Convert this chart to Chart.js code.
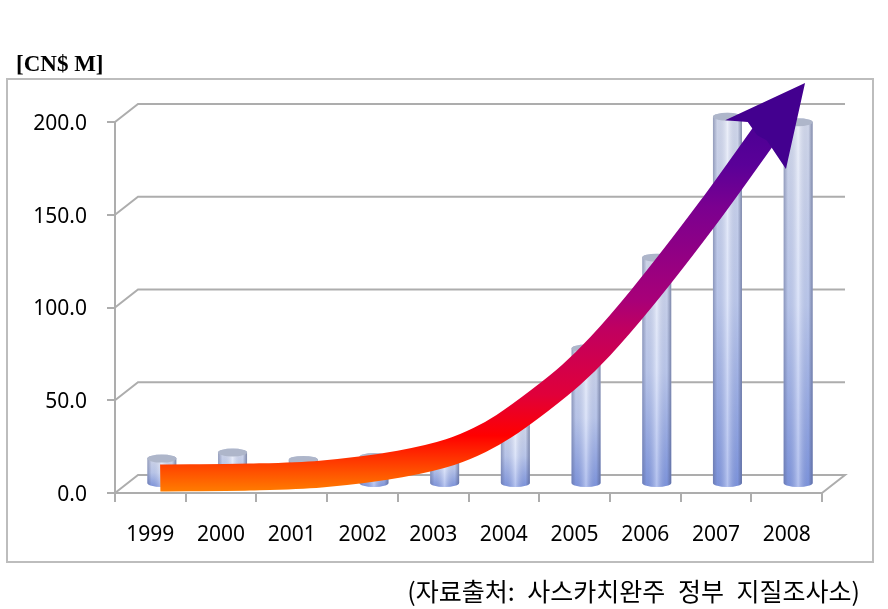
<!DOCTYPE html>
<html>
<head>
<meta charset="utf-8">
<title>CN$ M</title>
<script src="https://cdn.jsdelivr.net/npm/chart.js@4"></script>
<style>
    html, body { margin: 0; padding: 0; background: #fff; overflow: hidden; }
    #wrap { position: relative; width: 888px; height: 609px; }
    canvas { display: block; }
    #unit { position: absolute; left: 16px; top: 51px; font: bold 23px "Liberation Serif", serif; color: #000; }
    #source { position: absolute; right: 28px; top: 575px; font: 25px "Noto Sans CJK KR", sans-serif; word-spacing: 7px; line-height: 30px; color: #000; white-space: nowrap; }
</style>
</head>
<body>
<div id="wrap">
    <canvas id="chart" width="888" height="609"></canvas>
    <div id="unit">[CN$ M]</div>
    <div id="source">(자료출처: 사스카치완주 정부 지질조사소)</div>
</div>
<script>
const categories = ['1999', '2000', '2001', '2002', '2003', '2004', '2005', '2006', '2007', '2008'];
const values = [13.7, 17, 13, 14.5, 18, 32, 73, 122, 198, 195];

// arrow shaft (year position, value)
const arrowYears = [1999.14, 2000.41, 2001.41, 2002.53, 2003.24, 2003.66, 2004.0, 2004.51, 2004.95, 2005.36, 2005.95, 2006.92, 2007.72];
const arrowValues = [8.1, 8.6, 10.2, 15.6, 22, 28.6, 36, 50, 63.6, 79, 105, 152.6, 195];

// arrow head outline
const headYears = [2007.13, 2008.26, 2007.99, 2007.72, 2007.58, 2007.45];
const headValues = [201, 221, 174.7, 190, 193, 200];

const gridColor = '#adadad';
const depthX = 23;
const depthY = 18;

function arrowGradient(context) {
    const chart = context.chart;
    if (!chart.chartArea) return '#ff0000';
    const y = chart.scales.y;
    const g = chart.ctx.createLinearGradient(0, y.getPixelForValue(0), 0, y.getPixelForValue(221));
    g.addColorStop(0, '#ff8000');
    g.addColorStop(0.07, '#ff4000');
    g.addColorStop(0.14, '#ff0000');
    g.addColorStop(0.24, '#e0003a');
    g.addColorStop(0.4, '#c00060');
    g.addColorStop(0.47, '#a80078');
    g.addColorStop(0.7, '#7a0090');
    g.addColorStop(0.8, '#5a0098');
    g.addColorStop(1, '#3d0090');
    return g;
}

const wallsPlugin = {
    id: 'walls',
    beforeDraw(chart) {
        const ctx = chart.ctx;
        ctx.save();
        ctx.strokeStyle = '#bdbdbd';
        ctx.lineWidth = 2;
        ctx.strokeRect(7, 79, 866, 483);
        ctx.restore();
        // canvas middle baseline sits high for these digits
        if (!chart.$labelsMoved) {
            chart.scales.y.getLabelItems().forEach((item) => { item.options.translation[1] += 2; });
            chart.scales.x.getLabelItems().forEach((item) => { item.options.translation[1] += 1; });
            chart.$labelsMoved = true;
        }
    },
    beforeDatasetsDraw(chart) {
        const ctx = chart.ctx;
        const yScale = chart.scales.y;
        const area = chart.chartArea;
        ctx.save();
        ctx.strokeStyle = gridColor;
        ctx.lineWidth = 2;
        yScale.ticks.forEach((tick) => {
            const py = yScale.getPixelForValue(tick.value);
            ctx.beginPath();
            ctx.moveTo(area.left, py);
            ctx.lineTo(area.left + depthX, py - depthY);
            ctx.lineTo(area.right + depthX, py - depthY);
            if (tick.value === 0) ctx.lineTo(area.right, py);
            ctx.stroke();
        });
        ctx.restore();
        chart.getDatasetMeta(0).data.forEach(drawCylinder.bind(null, ctx));
    },
    afterDatasetsDraw(chart) {
        // the filler clips to the chart area, so the head is filled here
        const ctx = chart.ctx;
        const xScale = chart.scales.arrowX;
        const yScale = chart.scales.y;
        ctx.save();
        ctx.beginPath();
        headYears.forEach((year, i) => {
            ctx.lineTo(xScale.getPixelForValue(year), yScale.getPixelForValue(headValues[i]));
        });
        ctx.closePath();
        ctx.fillStyle = '#43008f';
        ctx.fill();
        ctx.restore();
    }
};

function drawCylinder(ctx, bar) {
    const rx = bar.width / 2;
    const ry = 4;
    const cx = bar.x + depthX / 2;
    const top = bar.y - depthY / 2;
    const base = bar.base - depthY / 2;

    ctx.save();
    ctx.beginPath();
    ctx.moveTo(cx - rx, top);
    ctx.lineTo(cx - rx, base);
    ctx.ellipse(cx, base, rx, ry, 0, Math.PI, 0, true);
    ctx.lineTo(cx + rx, top);
    ctx.ellipse(cx, top, rx, ry, 0, 0, Math.PI, true);
    ctx.closePath();

    const body = ctx.createLinearGradient(0, top, 0, base + ry);
    body.addColorStop(0, '#dde3f4');
    body.addColorStop(0.5, '#c4d1f5');
    body.addColorStop(1, '#8098e4');
    ctx.fillStyle = body;
    ctx.fill();

    const side = ctx.createLinearGradient(cx - rx, 0, cx + rx, 0);
    side.addColorStop(0, 'rgba(90,100,140,0.55)');
    side.addColorStop(0.15, 'rgba(90,100,140,0.12)');
    side.addColorStop(0.5, 'rgba(255,255,255,0.42)');
    side.addColorStop(0.85, 'rgba(80,90,130,0.1)');
    side.addColorStop(1, 'rgba(80,90,130,0.65)');
    ctx.fillStyle = side;
    ctx.fill();

    ctx.beginPath();
    ctx.ellipse(cx, top, rx, ry, 0, 0, Math.PI * 2);
    ctx.fillStyle = '#aeb6ca';
    ctx.fill();
    ctx.restore();
}

const shaftData = arrowYears.map((year, i) => ({ x: year, y: arrowValues[i] }));

new Chart(document.getElementById('chart'), {
    type: 'bar',
    data: {
        labels: categories,
        datasets: [
            {
                type: 'bar',
                data: values,
                backgroundColor: 'transparent',
                borderWidth: 0,
                grouped: false,
                barPercentage: 0.41,
                categoryPercentage: 1,
                order: 2
            },
            {
                type: 'line',
                data: shaftData,
                xAxisID: 'arrowX',
                borderColor: arrowGradient,
                borderWidth: 27,
                borderCapStyle: 'butt',
                cubicInterpolationMode: 'monotone',
                pointRadius: 0,
                fill: false,
                clip: false,
                order: 1
            }
        ]
    },
    options: {
        responsive: false,
        animation: false,
        layout: { padding: { top: 122, right: 66, bottom: 0, left: 0 } },
        plugins: { legend: { display: false }, tooltip: { enabled: false }, title: { display: false } },
        events: [],
        scales: {
            x: {
                afterFit(scale) { scale.height = 116; },
                grid: { drawOnChartArea: false, drawTicks: true, tickLength: 9, color: gridColor, lineWidth: 2 },
                border: { color: gridColor, width: 2 },
                ticks: { color: '#000', padding: 19, maxRotation: 0, autoSkip: false, font: { family: '"Noto Sans"', size: 21 } }
            },
            arrowX: {
                type: 'linear',
                display: false,
                offset: false,
                min: 1998.5,
                max: 2008.5
            },
            y: {
                min: 0,
                max: 200,
                afterFit(scale) { scale.width = 115; },
                grid: { drawOnChartArea: false, drawTicks: true, tickLength: 8, color: gridColor, lineWidth: 2 },
                border: { color: gridColor, width: 2 },
                ticks: {
                    stepSize: 50,
                    padding: 20,
                    color: '#000',
                    font: { family: '"Noto Sans"', size: 21 },
                    callback: (value) => value.toFixed(1)
                }
            }
        }
    },
    plugins: [wallsPlugin]
});
</script>
</body>
</html>
